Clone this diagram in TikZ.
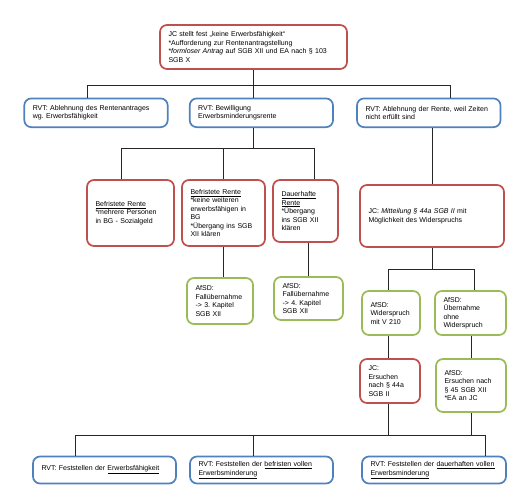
\documentclass[tikz,border=0pt]{standalone}
\usepackage{fontspec}
\setmainfont{Liberation Sans}
\definecolor{bred}{HTML}{C0504D}
\definecolor{bblue}{HTML}{4F81BD}
\definecolor{bgreen}{HTML}{9BBB59}
\hyphenpenalty=10000
\exhyphenpenalty=10000
\frenchspacing
\newcommand{\boxfont}{\fontsize{7pt}{8.5pt}\selectfont\frenchspacing}
\begin{document}
\begin{tikzpicture}[x=1pt,y=-1pt,
  box/.style={draw, rounded corners=7pt, line width=1.7pt, fill=white,
    inner xsep=8.5pt, inner ysep=2pt, align=left, font=\boxfont},
  rbox/.style={box, draw=bred},
  bbox/.style={box, draw=bblue},
  gbox/.style={box, draw=bgreen},
  sz/.style 2 args={minimum width=#1pt, minimum height=#2pt,
    text width=#1pt-17pt},
  conn/.style={draw=black!85, line width=0.9pt}]
\useasboundingbox (0,0) rectangle (529,496);

% nodes
\node[rbox, sz={187}{44}] (T) at (253.5,47) {JC stellt fest „keine Erwerbsfähigkeit“\\{*}Aufforderung zur Rentenantragstellung\\{*}\textit{formloser Antrag} auf SGB XII und EA nach § 103\\SGB X};

\node[bbox, sz={143.4}{28.7}] (A) at (96,112.8) {RVT: Ablehnung des Rentenantrages\\wg. Erwerbsfähigkeit};
\node[bbox, sz={143.3}{28.7}] (B) at (261.35,112.8) {RVT: Bewilligung\\Erwerbsminderungsrente};
\node[bbox, sz={143.5}{28.7}] (C) at (428.75,112.8) {RVT: Ablehnung der Rente, weil Zeiten\\nicht erfüllt sind};

\node[rbox, sz={87}{66}] (D) at (130.5,213) {\underline{Befristete Rente}\\{*}mehrere Personen\\in BG - Sozialgeld};
\node[rbox, sz={83}{66}] (E) at (223.5,213) {\underline{Befristete Rente}\\{*}keine weiteren\\erwerbsfähigen in\\BG\\{*}Übergang ins SGB\\XII klären};
\node[rbox, sz={65}{62}] (F) at (305.5,211) {\underline{Dauerhafte}\\\underline{Rente}\\{*}Übergang\\ins SGB XII\\klären};
\node[rbox, sz={144}{62}] (G) at (432,216) {JC: \textit{Mitteilung § 44a SGB II} mit\\Möglichkeit des Widerspruchs};

\node[gbox, sz={66}{46}] (H) at (220,301) {AfSD:\\Fallübernahme\\-> 3. Kapitel\\SGB XII};
\node[gbox, sz={69}{43}] (I) at (308.5,298.5) {AfSD:\\Fallübernahme\\-> 4. Kapitel\\SGB XII};

\node[gbox, sz={58}{44}] (J) at (391,313) {AfSD:\\Widerspruch\\mit V 210};
\node[gbox, sz={71}{44}] (K) at (470.5,313) {AfSD:\\Übernahme\\ohne\\Widerspruch};
\node[rbox, sz={60}{44}] (L) at (390,381) {JC:\\Ersuchen\\nach § 44a\\SGB II};
\node[gbox, sz={70}{53}] (M) at (471,385.5) {AfSD:\\Ersuchen nach\\§ 45 SGB XII\\{*}EA an JC};

\node[bbox, sz={143}{27}] (N) at (104.5,470) {RVT: Feststellen der \underline{Erwerbsfähigkeit}};
\node[bbox, sz={143}{27}] (O) at (261.5,470) {RVT: Feststellen der \underline{befristen vollen}\\\underline{Erwerbsminderung}};
\node[bbox, sz={144}{27}] (P) at (434,470) {RVT: Feststellen der \underline{dauerhaften vollen}\\\underline{Erwerbsminderung}};

% junction coordinates
\coordinate (j1) at (253,85);
\coordinate (j1l) at (87.7,85);
\coordinate (j1r) at (450.5,85);
\coordinate (j2) at (253,148);
\coordinate (j2l) at (121,148);
\coordinate (j2m) at (223,148);
\coordinate (j2r) at (314,148);
\coordinate (j3l) at (388,269);
\coordinate (j3r) at (474,269);
\coordinate (j4l) at (75.6,435);
\coordinate (j4m) at (253,435);
\coordinate (j4r) at (485,435);

% level 1
\draw[conn] (T.south) -- (T.south |- j1);
\draw[conn] (j1l) -- (j1r);
\draw[conn] (j1l) -- (j1l |- A.north);
\draw[conn] (j1) -- (j1 |- B.north);
\draw[conn] (j1r) -- (j1r |- C.north);
% level 2
\draw[conn] (j2 |- B.south) -- (j2);
\draw[conn] (j2l) -- (j2r);
\draw[conn] (j2l) -- (j2l |- D.north);
\draw[conn] (j2m) -- (j2m |- E.north);
\draw[conn] (j2r) -- (j2r |- F.north);
\draw[conn] (G.north |- C.south) -- (G.north);
% level 3
\draw[conn] (j2m |- E.south) -- (j2m |- H.north);
\draw[conn] (I.north |- F.south) -- (I.north);
\draw[conn] (G.south) -- (G.south |- j3l);
\draw[conn] (j3l) -- (j3r);
\draw[conn] (j3l) -- (j3l |- J.north);
\draw[conn] (j3r) -- (j3r |- K.north);
% level 4
\draw[conn] (j3l |- J.south) -- (j3l |- L.north);
\draw[conn] (M.north |- K.south) -- (M.north);
% bottom bus
\draw[conn] (j3l |- L.south) -- (j3l |- j4l);
\draw[conn] (M.south) -- (M.south |- j4l);
\draw[conn] (j4l) -- (j4r);
\draw[conn] (j4l) -- (j4l |- N.north);
\draw[conn] (j4m) -- (j4m |- O.north);
\draw[conn] (j4r) -- (j4r |- P.north);
\end{tikzpicture}
\end{document}
